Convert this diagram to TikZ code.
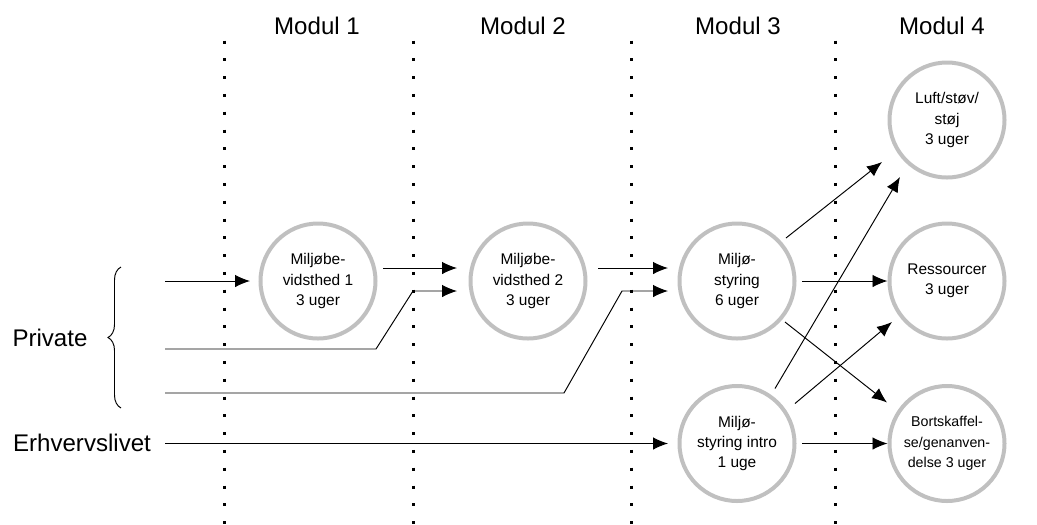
\documentclass[tikz,border=0pt]{standalone}
\usepackage{fontspec}
\setmainfont{Liberation Sans}
\usepackage{tikz}
\usetikzlibrary{arrows.meta,calc,decorations.pathreplacing}
\definecolor{ModGray}{HTML}{C0C0C0}

\begin{document}
\begin{tikzpicture}[x=0.2mm,y=-0.2mm,
      modul/.style={circle,draw=ModGray,line width=0.8mm,minimum size=2.3cm,
        inner sep=0pt,align=center,font=\fontsize{8.8}{11.4}\selectfont},
      head/.style={font=\fontsize{13.7}{16}\selectfont},
      arrow/.style={-{Latex[length=3mm,width=2.5mm]},line width=0.55pt,color=black},
      sep/.style={line width=0.6mm,dash pattern=on 0.6mm off 2.96mm}
    ]
      \useasboundingbox (0,0) rectangle (1037,524);
      % module separators and headings
      \foreach \x in {224,413,631,835}
        \draw[sep] (\x,40.5) -- (\x,524);
      \node[head] (m1) at (317,26) {Modul 1};
      \node[head] (m2) at (523,26) {Modul 2};
      \node[head] (m3) at (738,26) {Modul 3};
      \node[head] (m4) at (942,26) {Modul 4};
      % courses
      \node[modul] (bev1) at (318,281) {Miljøbe-\\vidsthed 1\\3 uger};
      \node[modul] (bev2) at (528,281) {Miljøbe-\\vidsthed 2\\3 uger};
      \node[modul] (sty) at (737,281) {Miljø-\\styring\\6 uger};
      \node[modul] (intro) at (737,443.5) {Miljø-\\styring intro\\1 uge};
      \node[modul] (luft) at (947,120) {Luft/støv/\\støj\\3 uger};
      \node[modul] (res) at (947,281) {Ressourcer\\3 uger};
      \node[modul,font=\fontsize{8.1}{11.7}\selectfont] (bort) at (947,443.5)
        {Bortskaffel-\\se/genanven-\\delse 3 uger};
      % participants
      \node[head] (priv) at (50,338) {Private};
      \node[head] (erhv) at (82,443) {Erhvervslivet};
      \draw[line width=0.55pt,decorate,decoration={brace,amplitude=2.6mm}]
        (121,408) -- (121,267);
      \coordinate (p1) at (165,281);
      \coordinate (p2) at (165,349);
      \coordinate (p3) at (165,393);
      \coordinate (p4) at (165,443.5);
      % entries
      \draw[arrow,shorten >=1.7mm] (p1) -- (bev1.west);
      \draw[arrow] (p2) -- ++(211,0) -- ++(37,-58) -- ($(bev2.west)+(-11.5,10)$);
      \draw[arrow] (p3) -- ++(399,0) -- ++(58,-102) -- ($(sty.west)+(-9.5,10)$);
      \draw[arrow,shorten >=1.9mm] (p4) -- (intro.west);
      \draw[arrow] ($(bev1.east)+(5.5,-13)$) -- ($(bev2.west)+(-11.5,-13)$);
      \draw[arrow] ($(bev2.east)+(10.5,-13)$) -- ($(sty.west)+(-9.5,-13)$);
      % into module 4
      \draw[arrow] ($(sty)+(49,-43)$) -- ($(luft)+(-65,42)$);
      \draw[arrow,shorten <=1.1mm] (sty.east) -- (res.west);
      \draw[arrow] ($(sty)+(48,41)$) -- ($(bort)+(-60,-41)$);
      \draw[arrow] ($(intro)+(38,-55)$) -- ($(luft)+(-47,57)$);
      \draw[arrow] ($(intro)+(58,-40)$) -- ($(res)+(-55,41)$);
      \draw[arrow,shorten <=1.1mm] (intro.east) -- (bort.west);
    \end{tikzpicture}
\end{document}
